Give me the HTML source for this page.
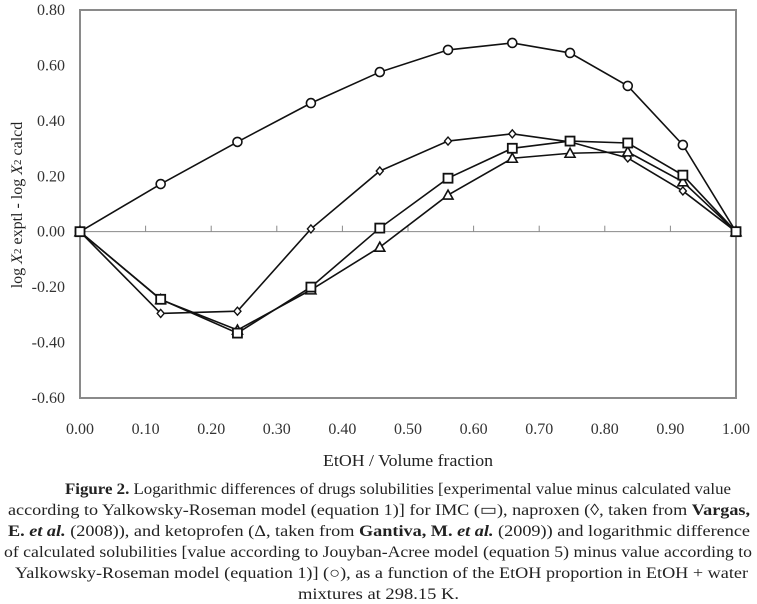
<!DOCTYPE html>
<html><head><meta charset="utf-8"><style>
html,body{margin:0;padding:0;background:#fff;}
svg{display:block;font-family:"Liberation Serif",serif;}
</style></head><body>
<svg id="chart" width="757" height="604" viewBox="0 0 757 604" xmlns="http://www.w3.org/2000/svg">
<rect x="80" y="10" width="656" height="388" fill="none" stroke="#8a8a8a" stroke-width="2"/>
<g id="axes"></g>
<g id="series"></g>
<text transform="translate(22,205) rotate(-90)" text-anchor="middle" font-size="16" fill="#222">log <tspan font-style="italic">X</tspan><tspan font-size="11" dy="-1">2</tspan><tspan dy="1"> exptl - log </tspan><tspan font-style="italic">X</tspan><tspan font-size="11" dy="-1">2</tspan><tspan dy="1"> calcd</tspan></text>
<text x="408" y="466" text-anchor="middle" font-size="17" fill="#222" textLength="170" lengthAdjust="spacingAndGlyphs">EtOH / Volume fraction</text>
<g font-size="16" fill="#222">
<text x="65" y="494" textLength="666" lengthAdjust="spacingAndGlyphs"><tspan font-weight="bold">Figure 2.</tspan> Logarithmic differences of drugs solubilities [experimental value minus calculated value</text>
<text x="8" y="515" textLength="742" lengthAdjust="spacingAndGlyphs">according to Yalkowsky-Roseman model (equation 1)] for IMC (▭), naproxen (◊, taken from <tspan font-weight="bold">Vargas,</tspan></text>
<text x="8" y="536" textLength="742" lengthAdjust="spacingAndGlyphs"><tspan font-weight="bold">E. </tspan><tspan font-weight="bold" font-style="italic">et al.</tspan> (2008)), and ketoprofen (Δ, taken from <tspan font-weight="bold">Gantiva, M. </tspan><tspan font-weight="bold" font-style="italic">et al.</tspan> (2009)) and logarithmic difference</text>
<text x="4" y="557" textLength="748" lengthAdjust="spacingAndGlyphs">of calculated solubilities [value according to Jouyban-Acree model (equation 5) minus value according to</text>
<text x="15" y="578" textLength="733" lengthAdjust="spacingAndGlyphs">Yalkowsky-Roseman model (equation 1)] (○), as a function of the EtOH proportion in EtOH + water</text>
<text x="298" y="599" textLength="161" lengthAdjust="spacingAndGlyphs">mixtures at 298.15 K.</text>
</g>
</svg>
<script>
const xVals = [0, 0.123, 0.24, 0.352, 0.457, 0.561, 0.659, 0.747, 0.835, 0.919, 1.0];
const jaVals = [0, 0.172, 0.324, 0.464, 0.576, 0.656, 0.681, 0.645, 0.526, 0.313, 0];
const naproxenVals = [0, -0.295, -0.287, 0.01, 0.219, 0.327, 0.353, 0.324, 0.266, 0.147, 0];
const imcVals = [0, -0.244, -0.366, -0.2, 0.013, 0.193, 0.301, 0.327, 0.32, 0.204, 0];
const ketoVals = [0, -0.245, -0.355, -0.21, -0.056, 0.132, 0.265, 0.283, 0.288, 0.18, 0];
const xTicks = [0, 0.1, 0.2, 0.3, 0.4, 0.5, 0.6, 0.7, 0.8, 0.9, 1.0];
const xTickLabels = ["0.00","0.10","0.20","0.30","0.40","0.50","0.60","0.70","0.80","0.90","1.00"];
const yTicks = [0.8, 0.6, 0.4, 0.2, 0, -0.2, -0.4, -0.6];
const yTickLabels = ["0.80","0.60","0.40","0.20","0.00","-0.20","-0.40","-0.60"];

const NS = "http://www.w3.org/2000/svg";
const X = v => 80 + v * 656;
const Y = v => 10 + (0.8 - v) * 277.1;
function mk(tag, attrs, parent){const e=document.createElementNS(NS,tag);for(const k in attrs)e.setAttribute(k,attrs[k]);parent.appendChild(e);return e;}
const axes = document.getElementById('axes');
const zl = mk('line',{x1:X(0),x2:X(1),y1:Y(0),y2:Y(0),stroke:'#8a8a8a','stroke-width':1},axes);


xTicks.forEach((t,i)=>{
  const tk = mk('line',{x1:X(t),x2:X(t),y1:Y(0),y2:Y(0)-6,stroke:'#8a8a8a','stroke-width':1},axes);
  
  
  const lb = mk('text',{x:X(t),y:434,'text-anchor':'middle','font-size':16,fill:'#333'},axes);
  lb.textContent = xTickLabels[i];
  
  
});
yTicks.forEach((t,i)=>{
  const lb = mk('text',{x:65,y:Y(t)+5,'text-anchor':'end','font-size':16,fill:'#333'},axes);
  lb.textContent = yTickLabels[i];
  
  
});
const sg = document.getElementById('series');
function series(vals, name, marker){
  const g = mk('g',{},sg);
  
  
  const pts = vals.map((v,i)=>X(xVals[i])+','+Y(v)).join(' ');
  mk('polyline',{points:pts,fill:'none',stroke:'#111','stroke-width':1.6},g);
  vals.forEach((v,i)=>{
    const cx=X(xVals[i]), cy=Y(v); let m;
    if(marker==='circle') m=mk('circle',{cx:cx,cy:cy,r:4.5,fill:'#fff',stroke:'#111','stroke-width':1.6},g);
    else if(marker==='square') m=mk('rect',{x:cx-4.5,y:cy-4.5,width:9,height:9,fill:'#fff',stroke:'#111','stroke-width':1.8},g);
    else if(marker==='triangle') m=mk('polygon',{points:`${cx},${cy-5} ${cx+5},${cy+4} ${cx-5},${cy+4}`,fill:'#fff',stroke:'#111','stroke-width':1.6},g);
    else m=mk('polygon',{points:`${cx},${cy-4} ${cx+3.5},${cy} ${cx},${cy+4} ${cx-3.5},${cy}`,fill:'#fff',stroke:'#111','stroke-width':1.4},g);
    
    
  });
}
series(jaVals,'jouyban-acree-series','circle');
series(naproxenVals,'naproxen-series','diamond');
series(ketoVals,'ketoprofen-series','triangle');
series(imcVals,'imc-series','square');
</script>
</body></html>
